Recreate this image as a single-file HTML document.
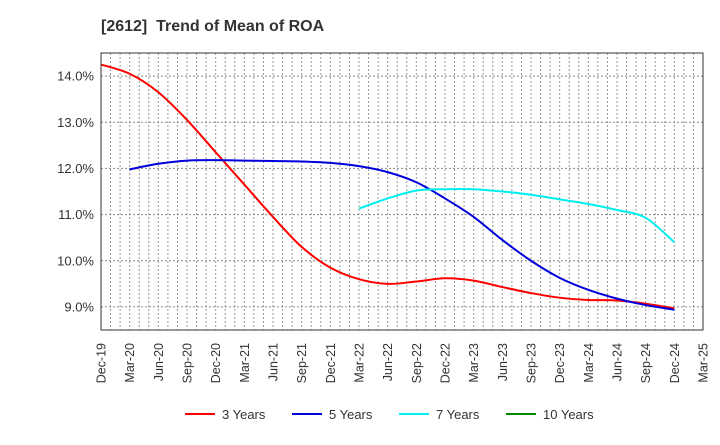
<!DOCTYPE html>
<html><head><meta charset="utf-8"><style>
body{margin:0;background:#fff;font-family:"Liberation Sans",sans-serif;}
</style></head><body>
<svg id="c" width="720" height="440" xmlns="http://www.w3.org/2000/svg" font-family="Liberation Sans, sans-serif">
<text x="101" y="31" font-size="16" font-weight="bold" fill="#333" style="white-space:pre">[2612]  Trend of Mean of ROA</text>
<g id="grid"></g><g id="series"></g><g id="axes"></g><g id="legend"></g>
</svg>
<script>
const xLabels=["Dec-19","Mar-20","Jun-20","Sep-20","Dec-20","Mar-21","Jun-21","Sep-21","Dec-21","Mar-22","Jun-22","Sep-22","Dec-22","Mar-23","Jun-23","Sep-23","Dec-23","Mar-24","Jun-24","Sep-24","Dec-24","Mar-25"];
const yTicks=[9,10,11,12,13,14];
const s3=[14.25,14.05,13.65,13.05,12.35,11.65,10.95,10.3,9.85,9.6,9.5,9.55,9.62,9.57,9.43,9.3,9.2,9.15,9.14,9.07,8.97];
const s5=[null,11.98,12.1,12.17,12.18,12.17,12.16,12.15,12.12,12.05,11.92,11.7,11.35,10.95,10.45,10.0,9.63,9.37,9.18,9.04,8.94];
const s7=[null,null,null,null,null,null,null,null,null,11.13,11.35,11.52,11.55,11.55,11.5,11.43,11.33,11.23,11.1,10.93,10.4];
const s10=[];
const L=101,R=703,T=53,B=330,yMin=8.5,yMax=14.5;
const xs=i=>L+i*(R-L)/(xLabels.length-1);
const ys=v=>B-(v-yMin)/(yMax-yMin)*(B-T);
const NS="http://www.w3.org/2000/svg";
function mk(t,a,p){const e=document.createElementNS(NS,t);for(const k in a)e.setAttribute(k,a[k]);p.appendChild(e);return e;}
const grid=document.getElementById('grid'),axes=document.getElementById('axes'),ser=document.getElementById('series'),leg=document.getElementById('legend');
const nM=(xLabels.length-1)*3;
for(let m=1;m<nM;m++){const x=L+m*(R-L)/nM;const l=mk('line',{x1:x,x2:x,y1:T,y2:B,stroke:'#999','stroke-dasharray':'2,2','stroke-width':1},grid);
}
yTicks.forEach(v=>{const l=mk('line',{x1:L,x2:R,y1:ys(v),y2:ys(v),stroke:'#888','stroke-dasharray':'2,2','stroke-width':1},grid);

const t=mk('text',{x:L-7,y:ys(v)+4.5,'text-anchor':'end','font-size':13,fill:'#333'},axes);t.textContent=v.toFixed(1)+'%';
});
const fr=mk('rect',{x:L,y:T,width:R-L,height:B-T,fill:'none',stroke:'#333','stroke-width':1},axes);

xLabels.forEach((s,i)=>{const x=xs(i);const t=mk('text',{x:0,y:0,transform:`translate(${x+4.5},${B+13}) rotate(-90)`,'text-anchor':'end','font-size':12.5,fill:'#333'},axes);t.textContent=s;
});
function path(d){const p=[];d.forEach((v,i)=>{if(v!=null)p.push([xs(i),ys(v)]);});if(p.length<2)return'';
let s=`M${p[0][0]},${p[0][1]}`;for(let i=0;i<p.length-1;i++){const p0=p[i-1]||p[i],p1=p[i],p2=p[i+1],p3=p[i+2]||p2;
s+=` C${p1[0]+(p2[0]-p0[0])/6},${p1[1]+(p2[1]-p0[1])/6} ${p2[0]-(p3[0]-p1[0])/6},${p2[1]-(p3[1]-p1[1])/6} ${p2[0]},${p2[1]}`;}return s;}
const series=[[s3,'#ff0000','3 Years','line-3-years'],[s5,'#0000dd','5 Years','line-5-years'],[s7,'#00eeee','7 Years','line-7-years'],[s10,'#008800','10 Years','line-10-years']];
series.forEach(([d,c,n,nm],k)=>{const pd=path(d);if(pd){const p=mk('path',{d:pd,fill:'none',stroke:c,'stroke-width':2},ser);
}
const lx=185+k*107;const g=mk('g',{},leg);
mk('line',{x1:lx,x2:lx+30,y1:414,y2:414,stroke:c,'stroke-width':2},g);
const t=mk('text',{x:lx+37,y:419,'font-size':13,fill:'#333'},g);t.textContent=n;});
</script>
</body></html>
